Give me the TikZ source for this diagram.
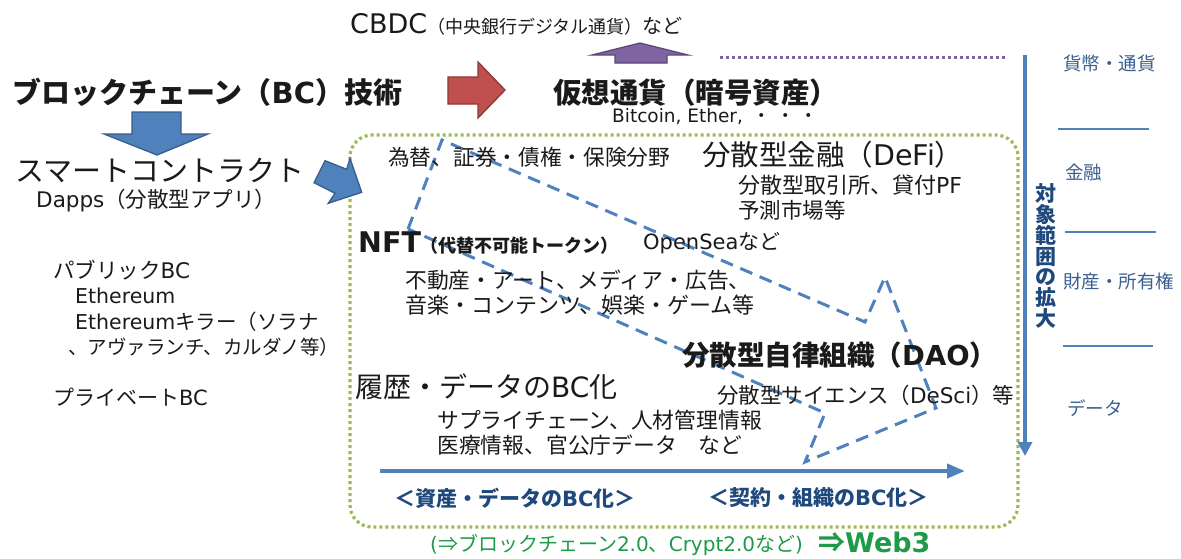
\documentclass[tikz,border=0pt]{standalone}
\usepackage{fontspec}
\setmainfont{Noto Sans CJK JP}
\newfontfamily\lat{DejaVu Sans}
\usetikzlibrary{arrows.meta}
\definecolor{barblue}{HTML}{4F81BD}
\definecolor{blueedge}{HTML}{385D8A}
\definecolor{redfill}{HTML}{C0504D}
\definecolor{rededge}{HTML}{8C3836}
\definecolor{purpfill}{HTML}{8064A2}
\definecolor{purpedge}{HTML}{5C4776}
\definecolor{boxgreen}{HTML}{9BBB59}
\definecolor{navy}{HTML}{1F497D}
\definecolor{labblue}{HTML}{3A5F8F}
\definecolor{webgreen}{HTML}{1E9A48}
\definecolor{txtgray}{HTML}{1A1A1A}
\newcommand\lt[1]{{\lat #1}}
\newcommand\fsz[1]{\fontsize{#1}{#1}\selectfont}
\begin{document}
\begin{tikzpicture}[x=1pt,y=-1pt,
  lbl/.style={inner sep=0pt, anchor=west, text=txtgray},
  body/.style={lbl, font=\fsz{21.8}},
  blockblue/.style={fill=barblue, draw=blueedge, line width=1.3pt, line join=miter},
  blockred/.style={fill=redfill, draw=rededge, line width=1.3pt, line join=miter},
  blockpurp/.style={fill=purpfill, draw=purpedge, line width=1.3pt, line join=miter},
  rightlab/.style={inner sep=0pt, anchor=west, text=labblue, font=\fsz{18.5}},
  sepline/.style={barblue, line width=1.5pt},
  flowarrow/.style={barblue, line width=4pt},
]
\useasboundingbox (0,0) rectangle (1181,558);

% green dotted frame
\draw[boxgreen, line width=3.2pt, dash pattern=on 3pt off 3pt, rounded corners=22pt]
  (350,135) rectangle (1018,527);

% dashed big arrow outline
\draw[barblue, line width=3pt, dash pattern=on 13pt off 8pt, line join=miter]
  (408,229) -- (442,140) -- (865,322) -- (885,277) -- (936,408) -- (805,462) -- (825,413) -- cycle;

% block arrows
\draw[blockblue] (132,112) -- (181,112) -- (181,134) -- (208,134) -- (157,155) -- (104,134) -- (132,134) -- cycle;
\draw[blockred] (448,77) -- (478,77) -- (478,62) -- (505,90) -- (478,118) -- (478,104) -- (448,104) -- cycle;
\draw[blockpurp] (615,63) -- (667,63) -- (667,55) -- (688,55) -- (640,43) -- (592,55) -- (615,55) -- cycle;
\draw[blockblue] (325,160.7) -- (346.7,169.3) -- (350,158.3) -- (361.7,192.3) -- (328.3,203.3) -- (335,193.3) -- (314,182.7) -- cycle;

% purple dotted line
\draw[purpfill, line width=3pt, dash pattern=on 3pt off 3pt] (720,57) -- (1005,57);

% vertical scope arrow
\coordinate (vtop) at (1025,55);
\coordinate (vbot) at (1025,456);
\draw[flowarrow, -{Triangle[width=14pt,length=14pt]}] (vtop) -- (vbot);
\node[inner sep=0pt, text=navy, font=\fsz{21}\bfseries, align=center] (scope) at (1046,256)
  {対\\[-0.3pt]象\\[-0.3pt]範\\[-0.3pt]囲\\[-0.3pt]の\\[-0.3pt]拡\\[-0.3pt]大};

% horizontal flow arrow
\coordinate (hleft) at (380,471);
\coordinate (hright) at (965,471);
\draw[flowarrow, -{Triangle[width=14pt,length=18pt]}] (hleft) -- (hright);

% right labels and separators
\node[rightlab] (money) at (1063,63) {貨幣・通貨};
\coordinate (s1a) at (1058,129); \coordinate (s1b) at (1149,129);
\draw[sepline] (s1a) -- (s1b);
\node[rightlab] (fin) at (1065,172) {金融};
\coordinate (s2a) at (1065,232); \coordinate (s2b) at (1156,232);
\draw[sepline] (s2a) -- (s2b);
\node[rightlab] (prop) at (1063,281) {財産・所有権};
\coordinate (s3a) at (1063,346); \coordinate (s3b) at (1153,346);
\draw[sepline] (s3a) -- (s3b);
\node[rightlab] (data) at (1067,408) {データ};

% top texts
\node[lbl] (cbdc) at (350,24) {{\lat\fsz{27}CBDC}{\fsz{18}（中央銀行デジタル通貨）}{\fsz{20}など}};
\node[lbl, font=\fsz{29}\bfseries] (bctitle) at (12,92) {ブロックチェーン（\lt{BC}）技術};
\node[lbl, font=\fsz{28.5}\bfseries] (crypto) at (553,93) {仮想通貨（暗号資産）};
\node[lbl, font=\fsz{18.5}] (bitcoin) at (612,117) {\lt{Bitcoin, Ether,}\hspace{10pt}・\hspace{5pt}・\hspace{5pt}・};

% left texts
\node[lbl, font=\fsz{29}] (smart) at (15,170) {スマートコントラクト};
\node[lbl, font=\fsz{21.5}] (dapps) at (36,201) {\lt{Dapps}（分散型アプリ）};
\node[lbl, font=\fsz{21.5}] (public) at (53,270) {パブリック\lt{BC}};
\node[lbl, font=\fsz{20.5}] (eth) at (75,296) {\lt{Ethereum}};
\node[lbl, font=\fsz{20.5}] (ethk) at (75,322) {\lt{Ethereum}キラー（ソラナ};
\node[lbl, font=\fsz{19.5}] (ethk2) at (68,347) {、アヴァランチ、カルダノ等）};
\node[lbl, font=\fsz{21}] (private) at (53,397) {プライベート\lt{BC}};

% box texts
\node[body, font=\fsz{21.7}] (fx) at (388,157) {為替、証券・債権・保険分野};
\node[lbl, font=\fsz{28.5}] (defi) at (702,155) {分散型金融（\lt{DeFi}）};
\node[lbl, font=\fsz{22}] (dex) at (738,185) {分散型取引所、貸付\lt{PF}};
\node[lbl, font=\fsz{21.5}] (pred) at (738,210) {予測市場等};
\node[lbl] (nft) at (358,243) {{\lat\bfseries\fsz{28.5}NFT}{\bfseries\fsz{18}（代替不可能トークン）}};
\node[lbl, font=\fsz{21}] (opensea) at (643,243) {\lt{OpenSea}など};
\node[body] (realestate) at (405,280) {不動産・アート、メディア・広告、};
\node[body, font=\fsz{22}] (music) at (405,305) {音楽・コンテンツ、娯楽・ゲーム等};
\node[lbl, font=\fsz{27.5}\bfseries] (dao) at (682,355) {分散型自律組織（\lt{DAO}）};
\node[lbl, font=\fsz{28}] (hist) at (355,387) {履歴・データの\lt{BC}化};
\node[body, font=\fsz{21.5}] (desci) at (717,395) {分散型サイエンス（\lt{DeSci}）等};
\node[body] (supply) at (437,420) {サプライチェーン、人材管理情報};
\node[body] (medical) at (437,445) {医療情報、官公庁データ　など};

% bottom labels
\node[lbl, text=navy, font=\fsz{21}\bfseries] (assetbc) at (394,498) {＜資産・データの\lt{BC}化＞};
\node[lbl, text=navy, font=\fsz{21}\bfseries] (contractbc) at (708,498) {＜契約・組織の\lt{BC}化＞};
\node[lbl, text=webgreen, font=\fsz{20}] (web2) at (430,545) {\lt{(}⇒ブロックチェーン\lt{2.0}、\lt{Crypt2.0}など\lt{)}};
\node[lbl, text=webgreen, font=\fsz{27}\bfseries] (web3) at (818,542) {⇒\lt{Web3}};
\end{tikzpicture}
\end{document}
